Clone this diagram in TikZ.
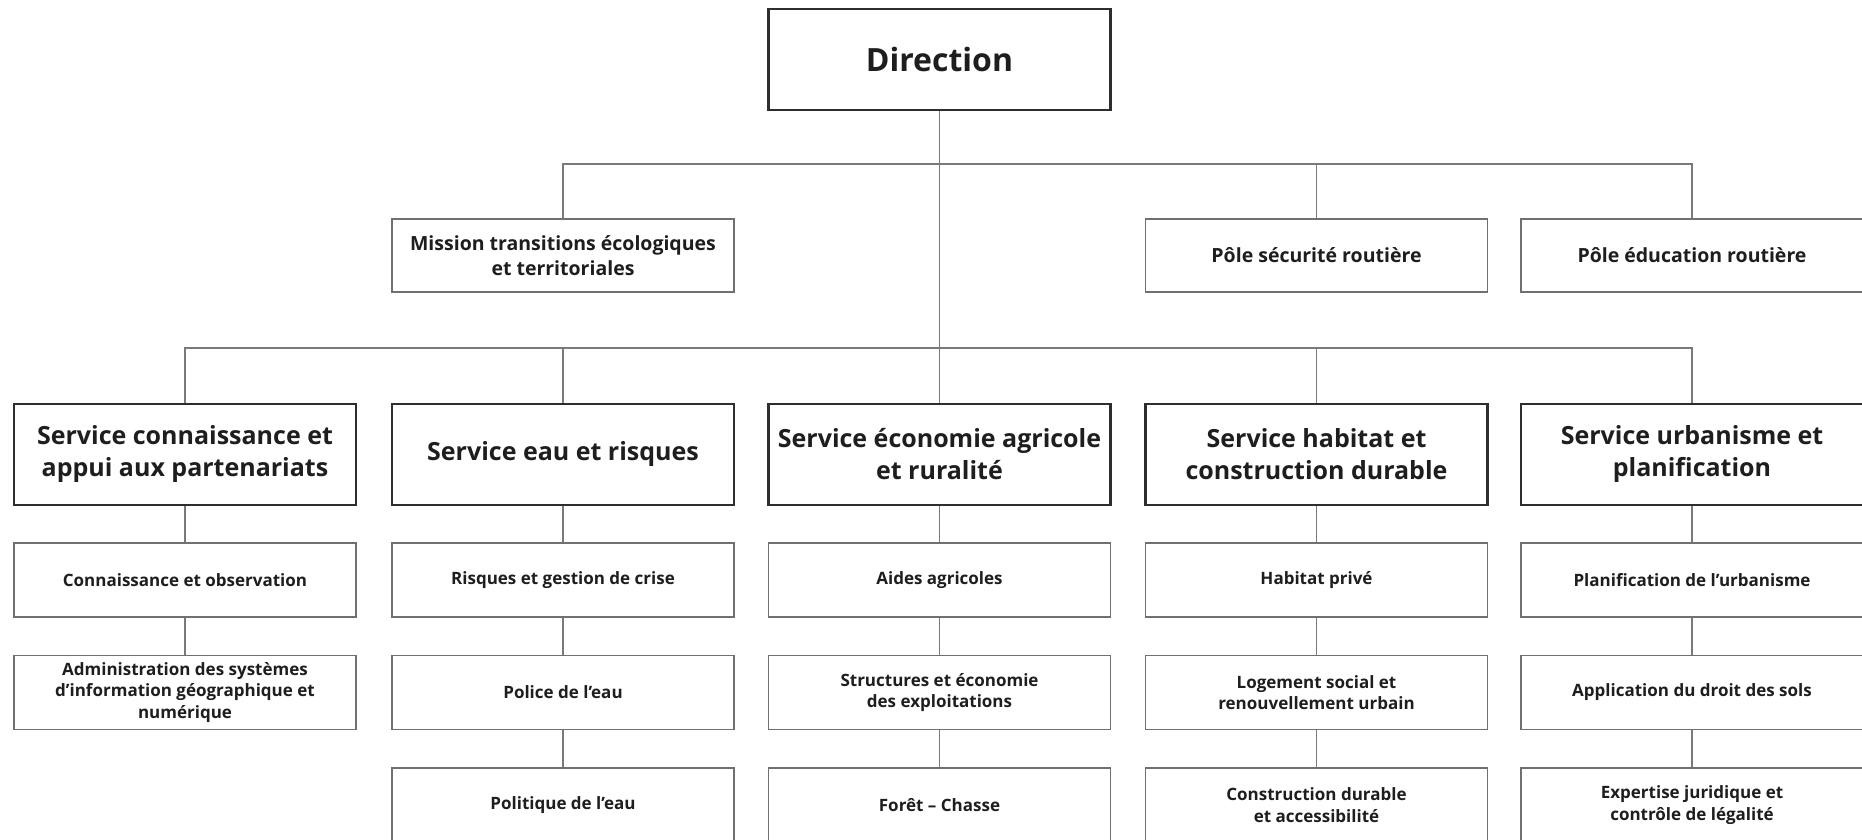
\documentclass[tikz,border=0pt]{standalone}
\usepackage{fontspec}
\setmainfont{Open Sans}
\definecolor{txt}{HTML}{1E1E1E}
\definecolor{thick}{HTML}{2E2E2E}
\definecolor{thin}{HTML}{707070}
\definecolor{conn}{HTML}{7A7A7A}
\begin{document}
\begin{tikzpicture}[x=1pt,y=-1pt,
  every node/.style={inner sep=0pt,align=center,text=txt,font=\bfseries},
  topbox/.style={draw=thick,line width=2.6pt,fill=white,rectangle,minimum width=342pt,minimum height=101pt},
  dirbox/.style={topbox,font=\bfseries\fontsize{32}{38}\selectfont},
  servbox/.style={topbox,font=\bfseries\fontsize{25}{32}\selectfont},
  midbox/.style={draw=thin,line width=1.5pt,fill=white,rectangle,minimum width=342pt,minimum height=73pt,font=\bfseries\fontsize{19.5}{25.7}\selectfont},
  subbox/.style={draw=thin,line width=1.5pt,fill=white,rectangle,minimum width=342pt,minimum height=74pt,font=\bfseries\fontsize{17}{21.7}\selectfont},
  link/.style={draw=conn,line width=1.2pt}]
\useasboundingbox (0,0) rectangle (1862,840);
\fill[white] (0,0) rectangle (1862,840);

% coordinates of buses
\coordinate (b1) at (939.5,164);
\coordinate (b2) at (939.5,348);

% Direction
\node[dirbox] (dir) at (939.5,59.5) {Direction};

% second level
\node[midbox] (mis) at (563,255.5) {Mission transitions écologiques\\et territoriales};
\node[midbox] (psec) at (1316.5,255.5) {Pôle sécurité routière};
\node[midbox] (pedu) at (1692,255.5) {Pôle éducation routière};

% services
\node[servbox] (s1) at (185,454.5) {Service connaissance et\\appui aux partenariats};
\node[servbox] (s2) at (563,454.5) {Service eau et risques};
\node[servbox] (s3) at (939.5,454.5) {Service économie agricole\\et ruralité};
\node[servbox] (s4) at (1316.5,454.5) {Service habitat et\\construction durable};
\node[servbox] (s5) at (1692,454.5) {Service urbanisme et\\planification};

% row 1
\node[subbox] (a1) at (185,580) {Connaissance et observation};
\node[subbox] (a2) at (563,580) {Risques et gestion de crise};
\node[subbox] (a3) at (939.5,580) {Aides agricoles};
\node[subbox] (a4) at (1316.5,580) {Habitat privé};
\node[subbox] (a5) at (1692,580) {Planification de l’urbanisme};

% row 2
\node[subbox] (c1) at (185,692.5) {Administration des systèmes\\d’information géographique et\\numérique};
\node[subbox] (c2) at (563,692.5) {Police de l’eau};
\node[subbox] (c3) at (939.5,692.5) {Structures et économie\\des exploitations};
\node[subbox] (c4) at (1316.5,692.5) {Logement social et\\renouvellement urbain};
\node[subbox] (c5) at (1692,692.5) {Application du droit des sols};

% row 3
\node[subbox] (d2) at (563,805) {Politique de l’eau};
\node[subbox] (d3) at (939.5,805) {Forêt – Chasse};
\node[subbox] (d4) at (1316.5,805) {Construction durable\\et accessibilité};
\node[subbox] (d5) at (1692,805) {Expertise juridique et\\contrôle de légalité};

% connectors
\path[link] (dir.south) -- (s3.north);
\path[link] (mis.north) |- (b1) -| (pedu.north);
\path[link] (psec.north) -- (psec.north |- b1);
\path[link] (s1.north) |- (b2) -| (s5.north);
\path[link] (s2.north) -- (s2.north |- b2);
\path[link] (s4.north) -- (s4.north |- b2);

\path[link] (s1.south) -- (a1.north);
\path[link] (a1.south) -- (c1.north);
\path[link] (s2.south) -- (a2.north);
\path[link] (a2.south) -- (c2.north);
\path[link] (c2.south) -- (d2.north);
\path[link] (s3.south) -- (a3.north);
\path[link] (a3.south) -- (c3.north);
\path[link] (c3.south) -- (d3.north);
\path[link] (s4.south) -- (a4.north);
\path[link] (a4.south) -- (c4.north);
\path[link] (c4.south) -- (d4.north);
\path[link] (s5.south) -- (a5.north);
\path[link] (a5.south) -- (c5.north);
\path[link] (c5.south) -- (d5.north);
\end{tikzpicture}
\end{document}
